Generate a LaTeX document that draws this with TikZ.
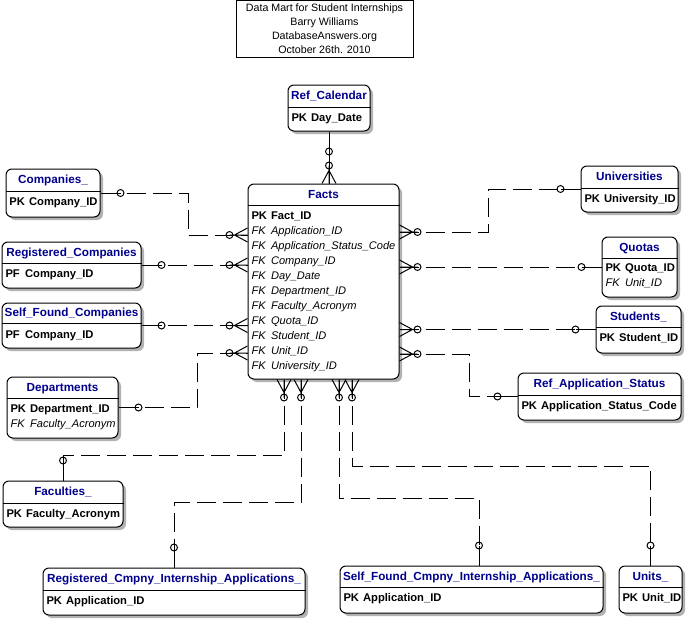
\documentclass[tikz,border=0pt]{standalone}
\usepackage{fontspec}
\setmainfont{Liberation Sans}
\usepackage{tikz}
\usetikzlibrary{calc,shadows}
\definecolor{erblue}{RGB}{0,0,140}

\tikzset{
  entbox/.style={rectangle, draw, line width=0.75pt, rounded corners=4.5pt, fill=white, inner sep=0pt,
    drop shadow={shadow xshift=2.25pt, shadow yshift=-2.25pt, fill=black!30, opacity=1}},
  txt/.style={inner sep=0pt, text height=0.75em, text depth=0.22em, font=\fontsize{8}{9.6}\selectfont},
  enttitle/.style={txt, font=\fontsize{8.8}{10}\selectfont\bfseries, text=erblue},
  pk/.style={txt, font=\fontsize{8.4}{9.6}\selectfont\bfseries},
  fk/.style={txt, font=\fontsize{8.3}{9.6}\selectfont\itshape},
  rel/.style={line width=0.75pt, dash pattern=on 14.25pt off 5.25pt},
  crowfoot/.pic={\draw[line width=0.75pt] (0,0) -- (18,0) (0,-7) -- (13,0) -- (0,7);
    \draw[line width=0.75pt] (18,0) circle (2.6pt);},
  zeroone/.pic={\draw[line width=0.75pt] (0,0) -- (20,0);
    \draw[line width=0.75pt] (20,0) circle (2.6pt);},
}

% entity: name, left, top, right, bottom, header line, title
\newcommand\entity[7]{%
  \node (#1) [entbox, minimum width={(#4-#2)*0.75pt}, minimum height={(#5-#3)*0.75pt}] at ({(#2+#4)/2},{(#3+#5)/2}) {};
  \draw[line width=0.75pt] (#1.west |- 0,#6) -- (#1.east |- 0,#6);
  \node (#1-title) [enttitle] at ({(#2+#4)/2},{(#3+#6)/2}) {#7};
}
% attribute row: entity, y, style, key, field
\newcommand\attr[5]{%
  \node [#3, anchor=west, xshift=2.8pt] at (#1.west |- 0,#2) {#4};
  \node [#3, anchor=west, xshift=17.5pt] at (#1.west |- 0,#2) {#5};
}

\begin{document}
\begin{tikzpicture}[x=0.75pt, y=-0.75pt]
  \useasboundingbox (0,0) rectangle (689,621);

  % title
  \node (titlebox) [draw, line width=0.75pt, minimum width={177*0.75pt}, minimum height={57*0.75pt},
    inner sep=0pt, align=center, font=\fontsize{8}{10.5}\selectfont] at (324.5,28.5)
    {Data Mart for Student Internships\\Barry Williams\\DatabaseAnswers.org\\October 26th. 2010};

  % entities
  \entity{calendar}{288}{85}{370}{131}{107}{Ref\_Calendar}
  \attr{calendar}{118}{pk}{PK}{Day\_Date}

  \entity{facts}{248}{184}{399}{379}{205}{Facts}
  \attr{facts}{216}{pk}{PK}{Fact\_ID}
  \foreach \fld [count=\i] in {Application\_ID, Application\_Status\_Code, Company\_ID, Day\_Date,
      Department\_ID, Faculty\_Acronym, Quota\_ID, Student\_ID, Unit\_ID, University\_ID}
    \attr{facts}{216+15*\i}{fk}{FK}{\fld};

  \entity{companies}{6}{169}{100}{217}{191}{Companies\_}
  \attr{companies}{202}{pk}{PK}{Company\_ID}

  \entity{regcomp}{2}{242}{141}{288}{263}{Registered\_Companies}
  \attr{regcomp}{274}{pk}{PF}{Company\_ID}

  \entity{selfcomp}{2}{303}{141}{348}{323}{Self\_Found\_Companies}
  \attr{selfcomp}{335}{pk}{PF}{Company\_ID}

  \entity{departments}{7}{377}{118}{438}{398}{Departments}
  \attr{departments}{409}{pk}{PK}{Department\_ID}
  \attr{departments}{424}{fk}{FK}{Faculty\_Acronym}

  \entity{faculties}{3}{481}{123}{527}{503}{Faculties\_}
  \attr{faculties}{514}{pk}{PK}{Faculty\_Acronym}

  \entity{regapp}{43}{568}{305}{615}{590}{Registered\_Cmpny\_Internship\_Applications\_}
  \attr{regapp}{601}{pk}{PK}{Application\_ID}

  \entity{selfapp}{340}{566}{603}{613}{587}{Self\_Found\_Cmpny\_Internship\_Applications\_}
  \attr{selfapp}{598}{pk}{PK}{Application\_ID}

  \entity{units}{619}{566}{682}{613}{587}{Units\_}
  \attr{units}{598}{pk}{PK}{Unit\_ID}

  \entity{universities}{581}{166}{678}{212}{188}{Universities}
  \attr{universities}{199}{pk}{PK}{University\_ID}

  \entity{quotas}{602}{237}{677}{297}{258}{Quotas}
  \attr{quotas}{268}{pk}{PK}{Quota\_ID}
  \attr{quotas}{283}{fk}{FK}{Unit\_ID}

  \entity{students}{596}{306}{681}{353}{327}{Students\_}
  \attr{students}{338}{pk}{PK}{Student\_ID}

  \entity{refstatus}{518}{373}{681}{420}{395}{Ref\_Application\_Status}
  \attr{refstatus}{406}{pk}{PK}{Application\_Status\_Code}

  \coordinate (selfapp-top) at (selfapp.north -| 479,0);

  % relationships
  \draw[line width=0.75pt] (calendar.south) -- (facts.north -| calendar.south);
  \draw[rel] (companies.east) -| (188,235) -- (facts.west |- 0,235);
  \draw[rel] (regcomp.east) -- (facts.west |- regcomp.east);
  \draw[rel] (selfcomp.east) -- (facts.west |- selfcomp.east);
  \draw[rel] (departments.east) -| (197,353) -- (facts.west |- 0,353);
  \draw[rel] (facts.south -| 284,0) -- (284,455) -| (faculties.north);
  \draw[rel] (facts.south -| 301,0) -- (301,502) -| (regapp.north);
  \draw[rel] (facts.south -| 339,0) -- (339,498) -| (selfapp-top);
  \draw[rel] (facts.south -| 352,0) -- (352,466) -| (units.north);
  \draw[rel] (facts.east |- 0,232) -- (488,232) |- (universities.west);
  \draw[rel] (facts.east |- quotas.west) -- (quotas.west);
  \draw[rel] (facts.east |- students.west) -- (students.west);
  \draw[rel] (facts.east |- 0,354) -- (469,354) |- (refstatus.west);

  % many ends at facts
  \pic[rotate=90] at (facts.north -| calendar.south) {crowfoot};
  \pic[rotate=180] at (facts.west |- 0,235) {crowfoot};
  \pic[rotate=180] at (facts.west |- regcomp.east) {crowfoot};
  \pic[rotate=180] at (facts.west |- selfcomp.east) {crowfoot};
  \pic[rotate=180] at (facts.west |- 0,353) {crowfoot};
  \pic at (facts.east |- 0,232) {crowfoot};
  \pic at (facts.east |- quotas.west) {crowfoot};
  \pic at (facts.east |- students.west) {crowfoot};
  \pic at (facts.east |- 0,354) {crowfoot};
  \foreach \xx in {284,301,339,352}
    \pic[rotate=-90] at (facts.south -| \xx,0) {crowfoot};

  % one ends
  \pic[rotate=-90] at (calendar.south) {zeroone};
  \pic at (companies.east) {zeroone};
  \pic at (regcomp.east) {zeroone};
  \pic at (selfcomp.east) {zeroone};
  \pic at (departments.east) {zeroone};
  \pic[rotate=90] at (faculties.north) {zeroone};
  \pic[rotate=90] at (regapp.north) {zeroone};
  \pic[rotate=90] at (selfapp-top) {zeroone};
  \pic[rotate=90] at (units.north) {zeroone};
  \pic[rotate=180] at (universities.west) {zeroone};
  \pic[rotate=180] at (quotas.west) {zeroone};
  \pic[rotate=180] at (students.west) {zeroone};
  \pic[rotate=180] at (refstatus.west) {zeroone};
\end{tikzpicture}
\end{document}
